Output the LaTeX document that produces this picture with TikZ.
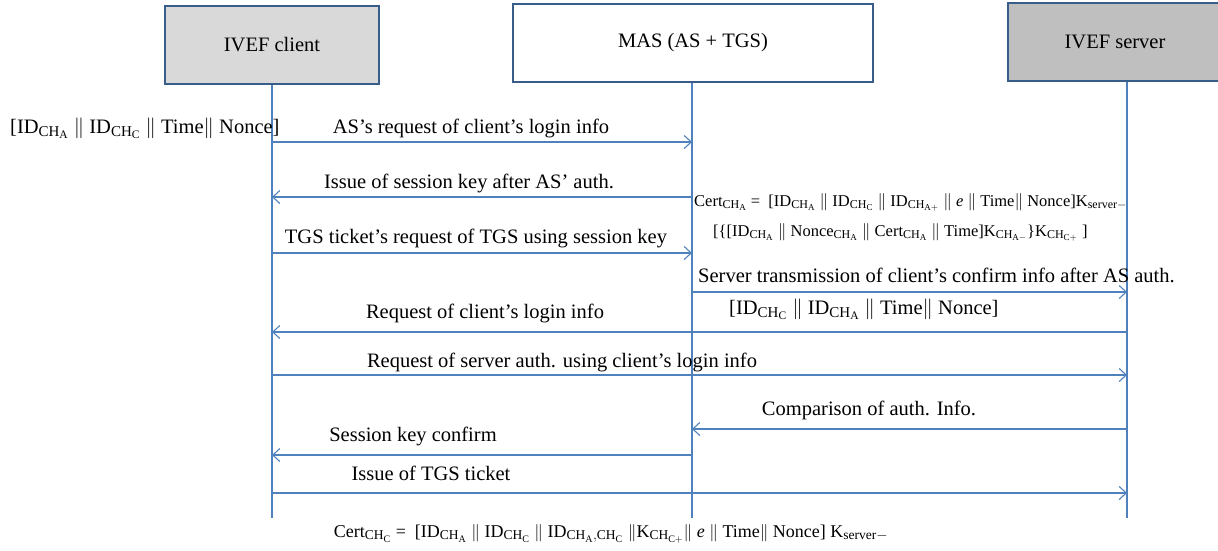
\documentclass[tikz,border=0pt]{standalone}
\usepackage{fontspec}
\setmainfont{Liberation Serif}
\setmathrm{Liberation Serif}
\usetikzlibrary{arrows.meta}
\DeclareMathSizes{20.5}{20.5}{15}{11.5}
\DeclareMathSizes{18}{18}{13.5}{10}
\DeclareMathSizes{16.5}{16.5}{12}{9}
\definecolor{lineblue}{HTML}{4F81BD}
\definecolor{boxblue}{HTML}{385D8A}
\definecolor{clientgray}{HTML}{D9D9D9}
\definecolor{servergray}{HTML}{BFBFBF}
\tikzset{every node/.style={font=\fontsize{20.5}{24}\selectfont,inner sep=0pt},
  small/.style={font=\fontsize{16.5}{19}\selectfont},
  mid/.style={font=\fontsize{18}{21}\selectfont},
  life/.style={draw=lineblue,line width=1.3pt},
  msg/.style={draw=lineblue,line width=1.1pt,-{Straight Barb[length=7pt,width=13pt]}}}
\newcommand{\chs}[1]{$_{\mathrm{CH}_{\mathrm{#1}}}$}
\newcommand{\dbar}{$\|$}
\newcommand{\actor}[4][]{\node[draw=boxblue,line width=1.5pt,minimum height=78pt,#1] at (#2) (#3) {#4}}
\newcommand{\msgrow}[2]{\coordinate (c#2) at (272,#1); \coordinate (m#2) at (692,#1); \coordinate (s#2) at (1127,#1)}

\begin{document}
\begin{tikzpicture}[x=1pt,y=-1pt]
  \useasboundingbox (0,0) rectangle (1218,550);

  \actor[fill=clientgray,minimum width=214pt]{272,45}{client}{IVEF client};
  \actor[fill=white,minimum width=360pt]{693,43}{mas}{MAS (AS + TGS)};
  \actor[fill=servergray,minimum width=214pt]{1115,42}{server}{IVEF server};

  \coordinate (cend) at (272,518);
  \coordinate (mend) at (692,518);
  \coordinate (send) at (1127,518);
  \draw[life] (client.south) -- (cend);
  \draw[life] (mas.south -| mend) -- (mend);
  \draw[life] (server.south -| send) -- (send);

  \msgrow{142}{1};
  \msgrow{197}{2};
  \msgrow{253}{3};
  \msgrow{292}{4};
  \msgrow{332}{5};
  \msgrow{375}{6};
  \msgrow{429}{7};
  \msgrow{455}{8};
  \msgrow{493}{9};

  \draw[msg] (c1) -- (m1);
  \draw[msg] (m2) -- (c2);
  \draw[msg] (c3) -- (m3);
  \draw[msg] (m4) -- (s4);
  \draw[msg] (s5) -- (c5);
  \draw[msg] (c6) -- (s6);
  \draw[msg] (s7) -- (m7);
  \draw[msg] (m8) -- (c8);
  \draw[msg] (c9) -- (s9);

  % labels
  \node[anchor=base west] (in1) at (10,133) {[ID\chs{A} \dbar{} ID\chs{C} \dbar{} Time\dbar{} Nonce]};
  \node[anchor=base] (l1) at (471,133) {AS's request of client's login info};
  \node[anchor=base] (l2) at (469,188) {Issue of session key after AS' auth.};
  \node[anchor=base] (l3) at (476,243) {TGS ticket's request of TGS using session key};
  \node[anchor=base west,small] (cert1) at (694,206) {Cert\chs{A} =\ \ [ID\chs{A} \dbar{} ID\chs{C} \dbar{} ID$_{\mathrm{CH}_{\mathrm{A}+}}$ \dbar{} \textit{e} \dbar{} Time\dbar{} Nonce]K$_{\mathrm{server}-}$};
  \node[anchor=base west,small] (cert2) at (713,236) {[\{[ID\chs{A} \dbar{} Nonce\chs{A} \dbar{} Cert\chs{A} \dbar{} Time]K$_{\mathrm{CH}_{\mathrm{A}-}}$\}K$_{\mathrm{CH}_{\mathrm{C}+}}$ ]};
  \node[anchor=base west] (l4) at (698,282) {Server transmission of client's confirm info after AS auth.};
  \node[anchor=base west] (in4) at (729,314) {[ID\chs{C} \dbar{} ID\chs{A} \dbar{} Time\dbar{} Nonce]};
  \node[anchor=base] (l5) at (485,318) {Request of client's login info};
  \node[anchor=base] (l6) at (562,367) {Request of server auth. using client's login info};
  \node[anchor=base] (l7) at (869,415) {Comparison of auth. Info.};
  \node[anchor=base] (l8) at (413,441) {Session key confirm};
  \node[anchor=base] (l9) at (431,480) {Issue of TGS ticket};
  \node[anchor=base,mid] (cert3) at (611,537) {Cert\chs{C} =\ \ [ID\chs{A} \dbar{} ID\chs{C} \dbar{} ID$_{\mathrm{CH}_{\mathrm{A}},\mathrm{CH}_{\mathrm{C}}}$ \dbar K$_{\mathrm{CH}_{\mathrm{C}+}}$\dbar{} \textit{e} \dbar{} Time\dbar{} Nonce] K$_{\mathrm{server}-}$};
\end{tikzpicture}
\end{document}
